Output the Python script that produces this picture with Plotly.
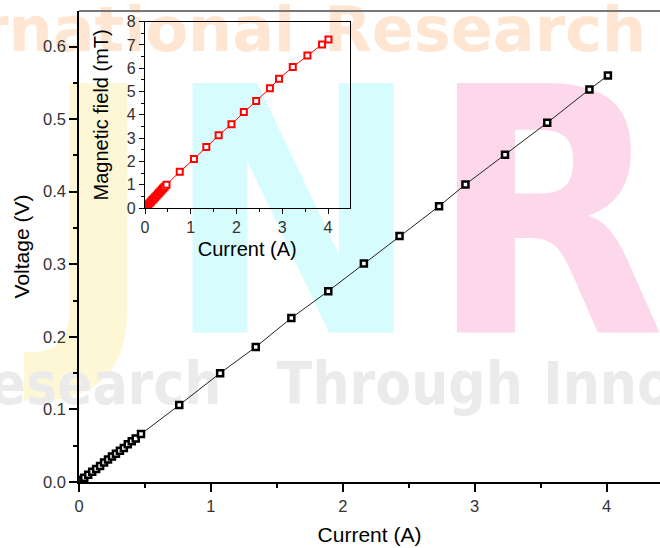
import plotly.graph_objects as go

# ---- data ----
current = [0.02, 0.04, 0.07, 0.10, 0.13, 0.16, 0.19, 0.22, 0.25, 0.28, 0.31, 0.34,
           0.37, 0.40, 0.43, 0.47, 0.76, 1.07, 1.34, 1.61, 1.89, 2.16, 2.43, 2.73,
           2.93, 3.23, 3.55, 3.87, 4.01]
voltage = [0.003, 0.006, 0.010, 0.014, 0.018, 0.022, 0.027, 0.031, 0.035, 0.039,
           0.043, 0.047, 0.052, 0.056, 0.060, 0.066, 0.106, 0.150, 0.186, 0.226,
           0.263, 0.301, 0.339, 0.380, 0.410, 0.451, 0.495, 0.541, 0.560]
field_mT = [0.05, 0.09, 0.15, 0.21, 0.27, 0.34, 0.40, 0.46, 0.53, 0.59, 0.66, 0.72,
            0.78, 0.85, 0.91, 1.00, 1.56, 2.10, 2.62, 3.12, 3.60, 4.12, 4.60, 5.14,
            5.55, 6.05, 6.55, 7.02, 7.24]

# watermark of the source picture (background decoration)
wm_letters = ["J", "N", "R"]
wm_letter_x = [0.58, 1.623, 3.55]
wm_letter_y = [0.324, 0.324, 0.324]
wm_letter_pos = ["middle left", "middle center", "middle center"]
wm_letter_colors = ["#FEF7D6", "#D6FCFE", "#FDD8EA"]

wm_top_words = ["International", "Research"]
wm_top_x = [1.64, 1.858]
wm_top_y = [0.615, 0.615]
wm_top_pos = ["middle left", "middle right"]

wm_low_words = ["Research", "Through", "Innovation"]
wm_low_x = [1.08, 1.50, 3.52]
wm_low_y = [0.128, 0.128, 0.128]
wm_low_pos = ["middle left", "middle right", "middle right"]

FONT = "Liberation Sans, Arial, sans-serif"
NARROW = "Liberation Sans Narrow, DejaVu Sans Condensed, Liberation Sans"

fig = go.Figure()

fig.add_trace(go.Scatter(
    x=wm_letter_x, y=wm_letter_y, mode="text", text=wm_letters,
    textposition=wm_letter_pos,
    textfont=dict(family=NARROW, size=342, color=wm_letter_colors, weight="bold"),
    cliponaxis=False, hoverinfo="skip", showlegend=False))

fig.add_trace(go.Scatter(
    x=wm_top_x, y=wm_top_y, mode="text", text=wm_top_words,
    textposition=wm_top_pos,
    textfont=dict(family="DejaVu Sans", size=62, color="#FEE6D2", weight="bold"),
    cliponaxis=False, hoverinfo="skip", showlegend=False))

fig.add_trace(go.Scatter(
    x=wm_low_x, y=wm_low_y, mode="text", text=wm_low_words,
    textposition=wm_low_pos,
    textfont=dict(family=NARROW, size=58, color="#EBEBEB", weight="bold"),
    cliponaxis=False, hoverinfo="skip", showlegend=False))

# main data
fig.add_trace(go.Scatter(
    x=current, y=voltage, mode="lines+markers",
    line=dict(color="#222222", width=1),
    marker=dict(symbol="square", size=6, color="white",
                line=dict(color="black", width=2.5)),
    showlegend=False, xaxis="x", yaxis="y"))

# inset data
fig.add_trace(go.Scatter(
    x=current, y=field_mT, mode="lines+markers",
    line=dict(color="red", width=1),
    marker=dict(symbol="square", size=6, color="white",
                line=dict(color="red", width=2)),
    showlegend=False, xaxis="x2", yaxis="y2"))

fig.update_layout(
    width=660, height=548,
    margin=dict(l=79, r=0, t=11, b=66),
    paper_bgcolor="white", plot_bgcolor="rgba(0,0,0,0)",
    font=dict(family=FONT, color="black"),
    xaxis=dict(
        range=[0, 4.405], domain=[0, 1], dtick=1, tick0=0, automargin=False,
        showgrid=False, zeroline=False, showline=True, linecolor="black", linewidth=1.5,
        ticks="outside", ticklen=8, tickwidth=1.5, tickcolor="black",
        minor=dict(dtick=0.5, ticks="outside", ticklen=4, tickwidth=1.5, tickcolor="black"),
        tickfont=dict(size=16.5, color="#333333"),
        title=dict(text="Current (A)", font=dict(size=21, color="black"), standoff=14),
    ),
    yaxis=dict(
        range=[0, 0.649], domain=[0, 1], dtick=0.1, tick0=0, tickformat=".1f",
        automargin=False,
        showgrid=False, zeroline=False, showline=True, linecolor="black", linewidth=1.5,
        ticks="outside", ticklen=8, tickwidth=1.5, tickcolor="black",
        minor=dict(dtick=0.05, ticks="outside", ticklen=4, tickwidth=1.5, tickcolor="black"),
        tickfont=dict(size=16.5, color="#333333"),
        title=dict(text="Voltage (V)", font=dict(size=21, color="black"), standoff=8),
    ),
    xaxis2=dict(
        anchor="y2", domain=[0.1136, 0.4656], range=[0, 4.47], dtick=1, tick0=0,
        automargin=False,
        showgrid=False, zeroline=False, showline=True, mirror=True,
        linecolor="black", linewidth=1.2,
        ticks="outside", ticklen=5, tickwidth=1.2, tickcolor="black",
        minor=dict(dtick=0.5, ticks="outside", ticklen=3, tickwidth=1.2, tickcolor="black"),
        tickfont=dict(size=16, color="#333333"),
        title=dict(text="Current (A)", font=dict(size=20, color="black"), standoff=6),
    ),
    yaxis2=dict(
        anchor="x2", domain=[0.5817, 0.9773], range=[0, 8], dtick=1, tick0=0,
        automargin=False,
        showgrid=False, zeroline=False, showline=True, mirror=True,
        linecolor="black", linewidth=1.2,
        ticks="outside", ticklen=5, tickwidth=1.2, tickcolor="black",
        minor=dict(dtick=0.5, ticks="outside", ticklen=3, tickwidth=1.2, tickcolor="black"),
        tickfont=dict(size=16, color="#333333"),
        title=dict(text="Magnetic field (mT)", font=dict(size=20, color="black"), standoff=12),
    ),
    shapes=[dict(type="line", xref="paper", yref="paper", x0=0, x1=1, y0=1, y1=1,
                 line=dict(color="#777777", width=2))],
)

fig.write_html("out.html",
               config={"displayModeBar": False},
               post_script="document.body.style.margin='0';document.body.style.overflow='hidden';")
